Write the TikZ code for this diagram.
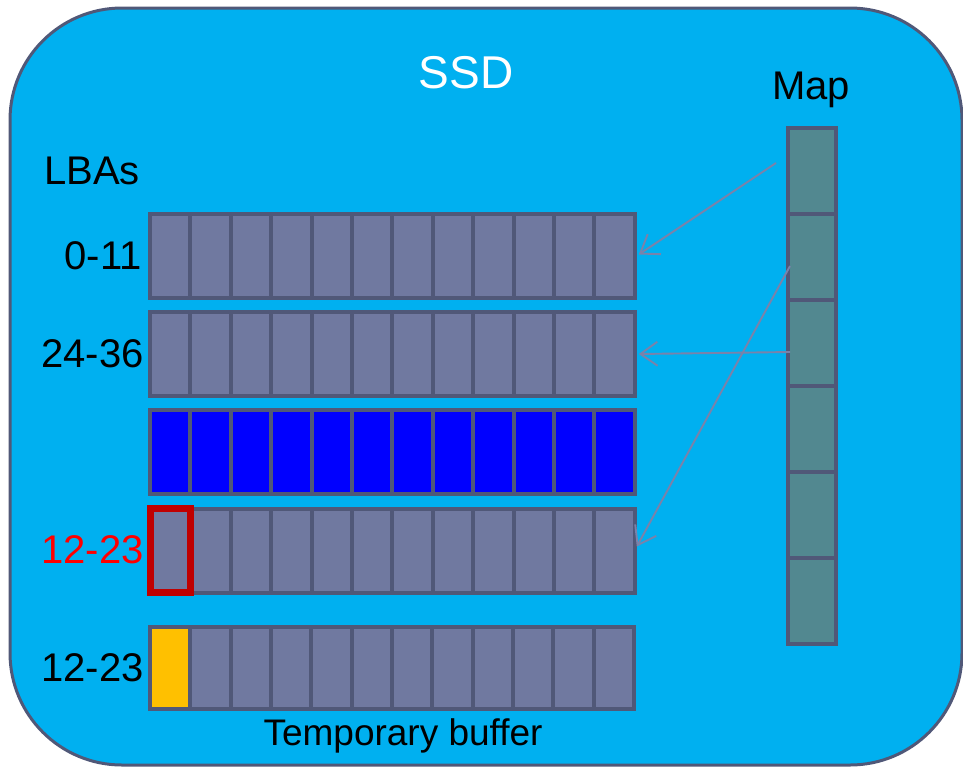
\documentclass[tikz,border=0pt]{standalone}
\usepackage{fontspec}
\setmainfont{Liberation Sans}
\usetikzlibrary{arrows.meta,calc}

\definecolor{ssdfill}{HTML}{00B0F0}
\definecolor{edge}{HTML}{505878}
\definecolor{cellfill}{HTML}{7079A0}
\definecolor{mapfill}{HTML}{528890}
\definecolor{linkcol}{HTML}{7A82AA}
\definecolor{darkred}{HTML}{C00000}
\definecolor{amber}{HTML}{FFC000}

\tikzset{
  ssdbox/.style={draw=edge, line width=3pt, fill=ssdfill, rounded corners=112pt,
    minimum width=952pt, minimum height=757pt, inner sep=0pt, outer sep=0pt},
  cell/.style={draw=edge, line width=4pt, fill=cellfill, minimum width=40.4pt,
    minimum height=84pt, inner sep=0pt, outer sep=0pt},
  bluecell/.style={cell, fill=blue},
  yellowcell/.style={cell, fill=amber},
  mapcell/.style={draw=edge, line width=4pt, fill=mapfill, minimum width=48pt,
    minimum height=86pt, inner sep=0pt, outer sep=0pt},
  redframe/.style={draw=darkred, line width=7pt},
  link/.style={draw=linkcol, line width=1.9pt, -{Straight Barb[length=17pt,width=24pt,line width=1.9pt]}},
  lbl/.style={font=\fontsize{40}{46}\selectfont, inner sep=0pt},
}

\begin{document}
\begin{tikzpicture}[x=1pt, y=-1pt]
  \useasboundingbox (0,0) rectangle (963,769);

  % drive outline
  \node[ssdbox] (ssd) at (486,386.5) {};

  % titles
  \node[font=\fontsize{46}{52}\selectfont, text=white, anchor=base, inner sep=0pt] (title) at (466,88) {SSD};
  \node[lbl, anchor=base] (maptitle) at (811,99) {Map};
  \node[lbl, anchor=base west] (lbas) at (44,184) {LBAs};

  % flash pages, twelve cells each
  \foreach \row/\y in {1/255.5, 2/354, 4/550.5}{
    \foreach \col in {1,...,12}{
      \node[cell] (r\row c\col) at ({150+40.4*(\col-0.5)}, \y) {};
    }
  }
  \foreach \col in {1,...,12}{
    \node[bluecell] (r3c\col) at ({150+40.4*(\col-0.5)}, 452) {};
  }
  \foreach \col in {2,...,12}{
    \node[cell, minimum height=82pt] (r5c\col) at ({150+40.33*(\col-0.5)}, 668) {};
  }
  \node[yellowcell, minimum height=82pt, minimum width=40.33pt] (r5c1) at ({150+40.33*0.5}, 668) {};

  % stale cell
  \draw[redframe] (r4c1.north west) rectangle (r4c1.south east);

  % row labels
  \node[lbl, anchor=east] (l1) at ($(r1c1.west)+(-8,0)$) {0-11};
  \node[lbl, anchor=east] (l2) at ($(r2c1.west)+(-6,0)$) {24-36};
  \node[lbl, anchor=east, text=red] (l4) at ($(r4c1.west)+(-6,-1)$) {12-23};
  \node[lbl, anchor=east] (l5) at ($(r5c1.west)+(-6,0)$) {12-23};
  \node[font=\fontsize{37}{44}\selectfont, anchor=base, inner sep=0pt] (tmp) at (403,745) {Temporary buffer};

  % mapping table
  \foreach \k in {1,...,6}{
    \node[mapcell] (m\k) at (812, {128+86*(\k-0.5)}) {};
  }

  % map entries pointing at pages
  \coordinate (s1) at ($(m1.west)+(-12,-8)$);
  \coordinate (s2) at ($(m3.west)+(2,9)$);
  \coordinate (s3) at ($(m2.west)+(2,9)$);
  \coordinate (e1) at ($(r1c12.east)+(4,-1)$);
  \coordinate (e2) at ($(r2c12.east)+(4,0)$);
  \coordinate (e3) at ($(r4c12.east)+(2,-4)$);
  \draw[link] (s1) -- (e1);
  \draw[link] (s2) -- (e2);
  \draw[link] (s3) -- (e3);
\end{tikzpicture}
\end{document}
